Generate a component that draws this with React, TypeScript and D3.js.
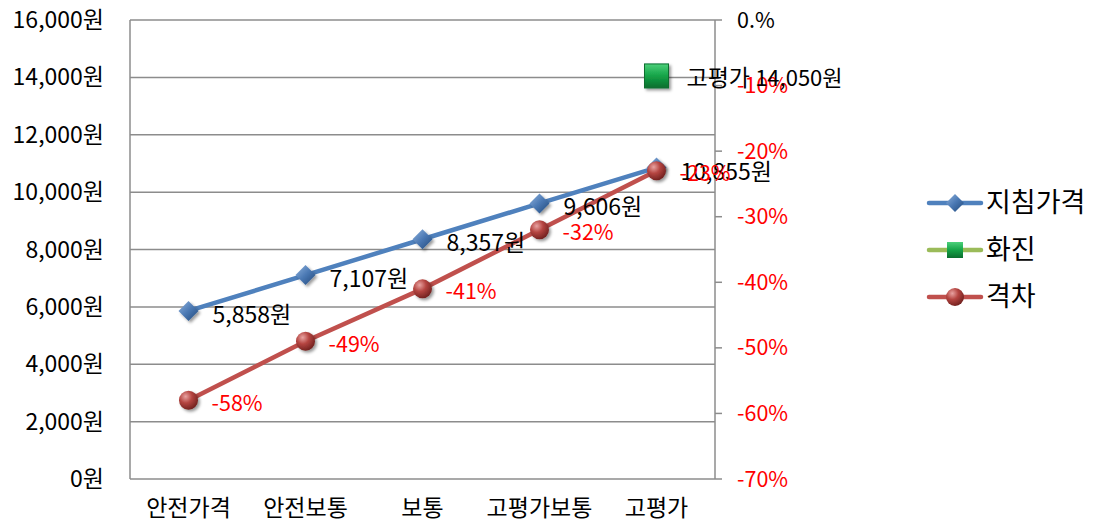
import React from 'react';
import { scaleLinear, scaleBand, line } from 'd3';

const categories = ['안전가격', '안전보통', '보통', '고평가보통', '고평가'];
const guidePrice = [5858, 7107, 8357, 9606, 10855];
const gapPct = [-58, -49, -41, -32, -23];
const confirmed = [{ cat: '고평가', value: 14050 }];
const leftTicks = [0, 2000, 4000, 6000, 8000, 10000, 12000, 14000, 16000];
const rightTicks = [0, -10, -20, -30, -40, -50, -60, -70];

const W = 1096, H = 528;
const left = 130, right = 715, top = 20, bottom = 479;
const font = '"Noto Sans CJK KR", "Noto Sans", sans-serif';

const fmt = (v: number) => v.toLocaleString('en-US') + '원';

function App() {
  const x = scaleBand().domain(categories).range([left, right]);
  const cx = (c: string) => (x(c) as number) + x.bandwidth() / 2;
  const y = scaleLinear().domain([0, 16000]).range([bottom, top]);
  const y2 = scaleLinear().domain([-70, 0]).range([bottom, top]);

  const blueLine = line<number>().x((d, i) => cx(categories[i])).y(d => y(d));
  const redLine = line<number>().x((d, i) => cx(categories[i])).y(d => y2(d));

  const diamond = (px: number, py: number, s: number) =>
    `M${px},${py - s}L${px + s},${py}L${px},${py + s}L${px - s},${py}Z`;

  return (
    <svg width={W} height={H} style={{ position: 'absolute', left: 0, top: 0, fontFamily: font }}>
      <defs>
        <radialGradient id="ball" cx="35%" cy="30%" r="75%">
          <stop offset="0%" stopColor="#e8a3a1" />
          <stop offset="45%" stopColor="#b54541" />
          <stop offset="100%" stopColor="#6e1f1d" />
        </radialGradient>
        <linearGradient id="dia" x1="0" y1="0" x2="1" y2="1">
          <stop offset="0%" stopColor="#8fb2dd" />
          <stop offset="50%" stopColor="#4a78b3" />
          <stop offset="100%" stopColor="#1f4778" />
        </linearGradient>
        <linearGradient id="sq" x1="0" y1="0" x2="0" y2="1">
          <stop offset="0%" stopColor="#4cd07a" />
          <stop offset="50%" stopColor="#14a347" />
          <stop offset="100%" stopColor="#0a6e2e" />
        </linearGradient>
        <filter id="sh" x="-50%" y="-50%" width="200%" height="200%">
          <feDropShadow dx="2" dy="2" stdDeviation="1.5" floodColor="#000" floodOpacity="0.4" />
        </filter>
      </defs>

      {/* gridlines */}
      {leftTicks.map(t => (
        <line key={t} x1={left} x2={right} y1={y(t)} y2={y(t)} stroke="#8c8c8c" strokeWidth={1.5} />
      ))}
      <line x1={left} x2={left} y1={top} y2={bottom} stroke="#8c8c8c" strokeWidth={1.5} />
      <line x1={right} x2={right} y1={top} y2={bottom} stroke="#8c8c8c" strokeWidth={1.5} />
      {rightTicks.map(t => (
        <line key={t} x1={right} x2={right + 7} y1={y2(t)} y2={y2(t)} stroke="#8c8c8c" strokeWidth={1.5} />
      ))}

      {/* left axis labels */}
      {leftTicks.map(t => (
        <text key={t} x={104} y={y(t)} dy="0.35em" textAnchor="end" fontSize={23} fill="#000">{fmt(t)}</text>
      ))}
      {/* right axis labels */}
      {rightTicks.map(t => (
        <text key={t} x={737} y={y2(t)} dy="0.35em" fontSize={21.5} fill={t === 0 ? '#000' : '#ff0000'}>
          {t === 0 ? '0.%' : `${t}%`}
        </text>
      ))}
      {/* category labels */}
      {categories.map(c => (
        <text key={c} x={cx(c)} y={516} textAnchor="middle" fontSize={23} fill="#000">{c}</text>
      ))}

      {/* lines */}
      <path d={blueLine(guidePrice) as string} fill="none" stroke="#4f81bd" strokeWidth={4.5} />
      <path d={redLine(gapPct) as string} fill="none" stroke="#c0504d" strokeWidth={4.5} />

      {/* markers */}
      {guidePrice.map((v, i) => (
        <path key={i} d={diamond(cx(categories[i]), y(v), 10)} fill="url(#dia)" filter="url(#sh)" />
      ))}
      {gapPct.map((v, i) => (
        <circle key={i} cx={cx(categories[i])} cy={y2(v)} r={9.5} fill="url(#ball)" filter="url(#sh)" />
      ))}
      {confirmed.map(d => (
        <rect key={d.cat} x={cx(d.cat) - 12} y={y(d.value) - 12} width={24} height={24} fill="url(#sq)" stroke="#0a6e2e" strokeWidth={1} filter="url(#sh)" />
      ))}

      {/* data labels */}
      {guidePrice.map((v, i) => (
        <text key={i} x={cx(categories[i]) + 24} y={y(v) + 4} dy="0.35em" fontSize={23} fill="#000">{fmt(v)}</text>
      ))}
      {confirmed.map(d => (
        <text key={d.cat} x={cx(d.cat) + 30} y={y(d.value) + 2} dy="0.35em" fontSize={23} fill="#000">
          {d.cat} <tspan fontSize={22}>{fmt(d.value)}</tspan>
        </text>
      ))}
      {gapPct.map((v, i) => (
        <text key={i} x={cx(categories[i]) + 23} y={y2(v) + 3} dy="0.35em" fontSize={21.5} fill="#ff0000">{`${v}%`}</text>
      ))}

      {/* legend */}
      {[
        { name: '지침가격', color: '#4f81bd', kind: 'diamond' },
        { name: '화진', color: '#9bbb59', kind: 'square' },
        { name: '격차', color: '#c0504d', kind: 'ball' },
      ].map((l, i) => {
        const ly = 203 + i * 47;
        const mx = 955;
        return (
          <g key={l.name}>
            <line x1={929} x2={981} y1={ly} y2={ly} stroke={l.color} strokeWidth={4.5} strokeLinecap="round" />
            {l.kind === 'diamond' && <path d={diamond(mx, ly, 9)} fill="url(#dia)" />}
            {l.kind === 'square' && <rect x={mx - 8} y={ly - 8} width={16} height={16} fill="url(#sq)" />}
            {l.kind === 'ball' && <circle cx={mx} cy={ly} r={9} fill="url(#ball)" />}
            <text x={986} y={ly} dy="0.35em" fontSize={27} fill="#000">{l.name}</text>
          </g>
        );
      })}
    </svg>
  );
}

export default App;
